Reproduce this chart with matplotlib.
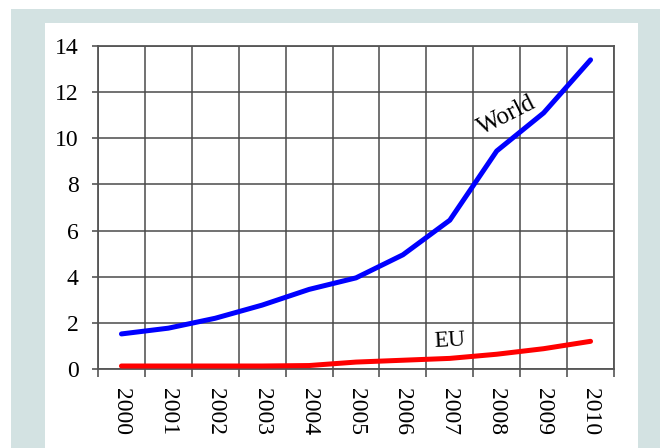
import matplotlib
matplotlib.use("Agg")
import matplotlib.pyplot as plt
from matplotlib.patches import Rectangle
import numpy as np

years = ["2000", "2001", "2002", "2003", "2004", "2005",
         "2006", "2007", "2008", "2009", "2010"]
world = [1.52, 1.77, 2.2, 2.77, 3.45, 3.95, 4.95, 6.45, 9.45, 11.1, 13.4]
eu = [0.13, 0.13, 0.13, 0.13, 0.15, 0.3, 0.38, 0.46, 0.64, 0.88, 1.2]
yticks = [0, 2, 4, 6, 8, 10, 12, 14]

plt.rcParams['font.family'] = ['Liberation Serif', 'DejaVu Serif']

W, H = 660, 448
fig = plt.figure(figsize=(W / 100, H / 100), dpi=100)
fig.patch.set_facecolor('white')

# teal frame and white card behind the chart
fig.patches.append(Rectangle((11 / W, 0), (W - 11) / W, (H - 9) / H,
                             transform=fig.transFigure, facecolor='#d3e2e2',
                             edgecolor='none', zorder=-2))
fig.patches.append(Rectangle((45 / W, 0), 593 / W, (H - 23) / H,
                             transform=fig.transFigure, facecolor='white',
                             edgecolor='none', zorder=-1))

ax = fig.add_axes([98 / W, 1 - 369 / H, (614 - 98) / W, (369 - 46) / H])
ax.set_facecolor('none')

x = np.arange(len(years))
ax.plot(x, world, color='#0000ff', lw=3.6, solid_capstyle='round', zorder=3)
ax.plot(x, eu, color='#ff0000', lw=3.6, solid_capstyle='round', zorder=3)

ax.set_xlim(-0.5, len(years) - 0.5)
ax.set_ylim(0, 14)

ax.set_xticks(x)
ax.set_xticklabels(years, rotation=270, fontsize=17)
ax.set_xticks(np.arange(-0.5, len(years)), minor=True)
ax.tick_params(axis='x', which='major', length=0, pad=14)
ax.tick_params(axis='x', which='minor', length=6, width=1.2, color='#555555')
ax.set_yticks(yticks)
ax.tick_params(axis='y', length=4, width=1.2, color='#555555', labelsize=17, pad=10)

ax.grid(True, which='minor', axis='x', color='#4a4a4a', lw=1.1)
ax.grid(True, which='major', axis='y', color='#4a4a4a', lw=1.1)
for s in ax.spines.values():
    s.set_color('#555555')
    s.set_linewidth(1.3)

ax.text(8.22, 11.0, "World", rotation=27, fontsize=18, ha='center', va='center')
ax.text(7.0, 1.22, "EU", rotation=3, fontsize=17, ha='center', va='center')

fig.savefig("out.png", dpi=100)
